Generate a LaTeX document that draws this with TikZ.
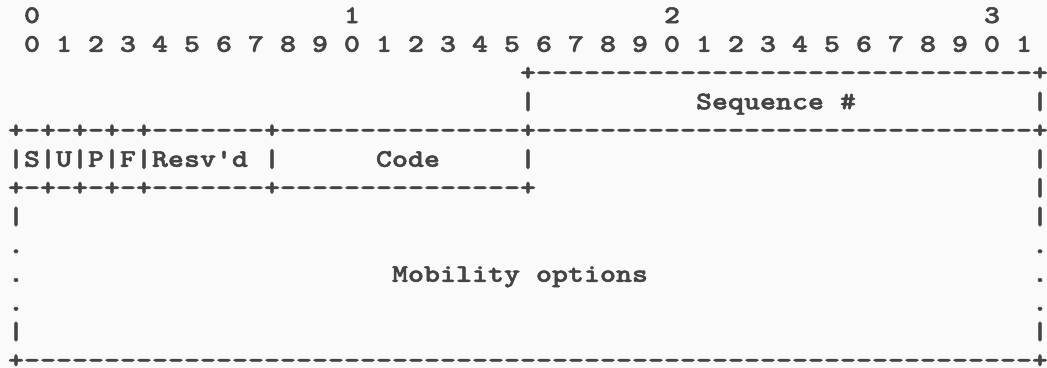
\documentclass[tikz,border=0pt]{standalone}
\usepackage{fontspec}
\newfontfamily\courlike{lmmonolt10-bold}[Extension=.otf, FakeStretch=1.203, FakeBold=2]
\definecolor{ink}{HTML}{444444}
\definecolor{paper}{HTML}{FAFAFA}
\newcommand\myrep[2]{\ifnum#1>0\relax#2\expandafter\myrep\expandafter{\the\numexpr#1-1\relax}{#2}\fi}
\tikzset{txt/.style={anchor=base west, inner sep=0pt, outer sep=0pt, text=ink,
  font=\courlike\fontsize{19pt}{19pt}\selectfont}}
\newcommand\cell[4]{\node[txt] (#1) at ({6pt+12pt*#3}, {-17.25pt-21.5625pt*(#2-1)}) {#4};}
\begin{document}
\begin{tikzpicture}
\useasboundingbox (0,0) rectangle (785.25pt,-276pt);
\fill[paper] (0,0) rectangle (785.25pt,-276pt);
% header
\cell{h0}{1}{1}{0}
\cell{h1}{1}{21}{1}
\cell{h2}{1}{41}{2}
\cell{h3}{1}{61}{3}
\cell{bits}{2}{1}{0 1 2 3 4 5 6 7 8 9 0 1 2 3 4 5 6 7 8 9 0 1 2 3 4 5 6 7 8 9 0 1}
% sequence
\cell{seqtop}{3}{32}{+\myrep{31}{-}+}
\cell{seql}{4}{32}{|}
\cell{seq}{4}{43}{Sequence \#}
\cell{seqr}{4}{64}{|}
\cell{r5}{5}{0}{+-+-+-+-+\myrep{7}{-}+\myrep{15}{-}+\myrep{31}{-}+}
% flags and code
\cell{flags}{6}{0}{|S|U|P|F|Resv'd}
\cell{b6a}{6}{16}{|}
\cell{code}{6}{23}{Code}
\cell{b6b}{6}{32}{|}
\cell{b6c}{6}{64}{|}
\cell{r7}{7}{0}{+-+-+-+-+\myrep{7}{-}+\myrep{15}{-}+}
\cell{b7}{7}{64}{|}
% mobility options
\cell{l8}{8}{0}{|}
\cell{r8}{8}{64}{|}
\cell{l9}{9}{0}{.}
\cell{r9}{9}{64}{.}
\cell{l10}{10}{0}{.}
\cell{mob}{10}{24}{Mobility options}
\cell{r10}{10}{64}{.}
\cell{l11}{11}{0}{.}
\cell{r11}{11}{64}{.}
\cell{l12}{12}{0}{|}
\cell{r12}{12}{64}{|}
\cell{bottom}{13}{0}{+\myrep{63}{-}+}
\end{tikzpicture}
\end{document}
